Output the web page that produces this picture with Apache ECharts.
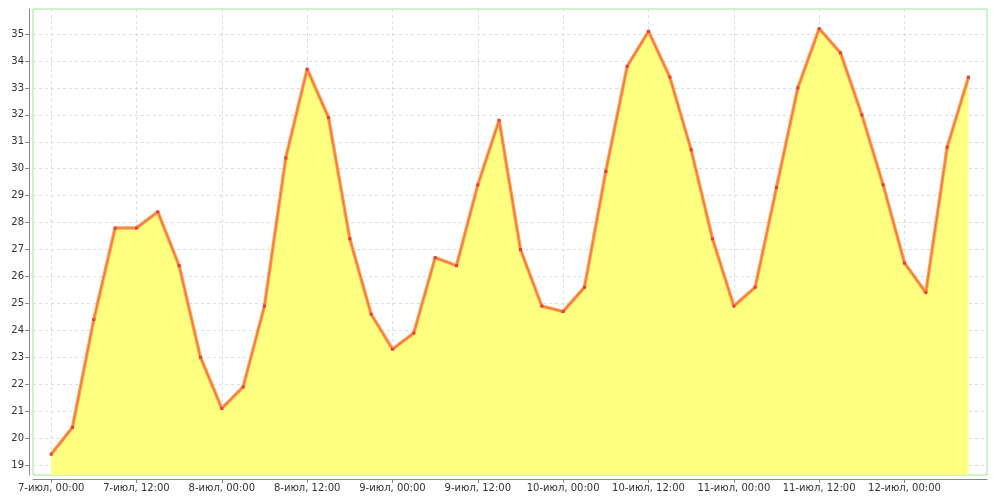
<!DOCTYPE html>
<html><head><meta charset="utf-8">
<script src="https://cdn.jsdelivr.net/npm/echarts@6/dist/echarts.min.js"></script>
<style>html,body{margin:0;padding:0;background:#fff}#c{width:1000px;height:500px}</style>
</head><body><div id="c"></div>
<script>
// time step between readings: 3 hours, starting 7-июл 00:00
const stepHours = 3;
const values = [19.4,20.4,24.4,27.8,27.8,28.4,26.4,23.0,21.1,21.9,24.9,30.4,33.7,31.9,27.4,24.6,
  23.3,23.9,26.7,26.4,29.4,31.8,27.0,24.9,24.7,25.6,29.9,33.8,35.1,33.4,30.7,27.4,
  24.9,25.6,29.3,33.0,35.2,34.3,32.0,29.4,26.5,25.4,30.8,33.4];
const tickHours = [0,12,24,36,48,60,72,84,96,108,120];
const tickLabels = ['7-июл, 00:00','7-июл, 12:00','8-июл, 00:00','8-июл, 12:00','9-июл, 00:00','9-июл, 12:00',
  '10-июл, 00:00','10-июл, 12:00','11-июл, 00:00','11-июл, 12:00','12-июл, 00:00'];
const yTicks = [19,20,21,22,23,24,25,26,27,28,29,30,31,32,33,34,35];

const pts = values.map((v,i)=>[i*stepHours, v]);
const font = 'DejaVu Sans';
const chart = echarts.init(document.getElementById('c'));
chart.setOption({
  animation:false,
  grid:{left:33,top:9,right:13,bottom:25,show:true,borderColor:'#99e699',borderWidth:1,backgroundColor:'#fff'},
  xAxis:{type:'value',min:-2.55,max:131.6,offset:4,
    axisLine:{show:true,onZero:false,lineStyle:{color:'#888'}},
    axisTick:{show:true,length:4,lineStyle:{color:'#888'},customValues:tickHours},
    axisLabel:{customValues:tickHours,color:'#333',fontFamily:font,fontSize:10,margin:4,
      formatter:v=>tickLabels[tickHours.indexOf(Math.round(v))]||''},
    splitLine:{show:true,lineStyle:{color:'#ddd',type:[3,3]}}},
  yAxis:{type:'value',min:18.63,max:35.93,offset:4,
    axisLine:{show:true,onZero:false,lineStyle:{color:'#888'}},
    axisTick:{show:true,length:4,lineStyle:{color:'#888'},customValues:yTicks},
    axisLabel:{customValues:yTicks,color:'#333',fontFamily:font,fontSize:10,margin:5,
      formatter:v=>String(Math.round(v))},
    splitLine:{show:true,lineStyle:{color:'#ddd',type:[3,3]}}},
  series:[
    {type:'line',data:pts,symbol:'none',
      lineStyle:{color:'#ffa54a',width:3.5},
      areaStyle:{color:'#ffff80',opacity:1,origin:'start'},z:2},
    {type:'line',data:pts,symbol:'rect',symbolSize:3,
      itemStyle:{color:'#e83c3c'},
      lineStyle:{color:'#f06050',width:1.2,opacity:0.8},z:3}
  ]
});
</script></body></html>
